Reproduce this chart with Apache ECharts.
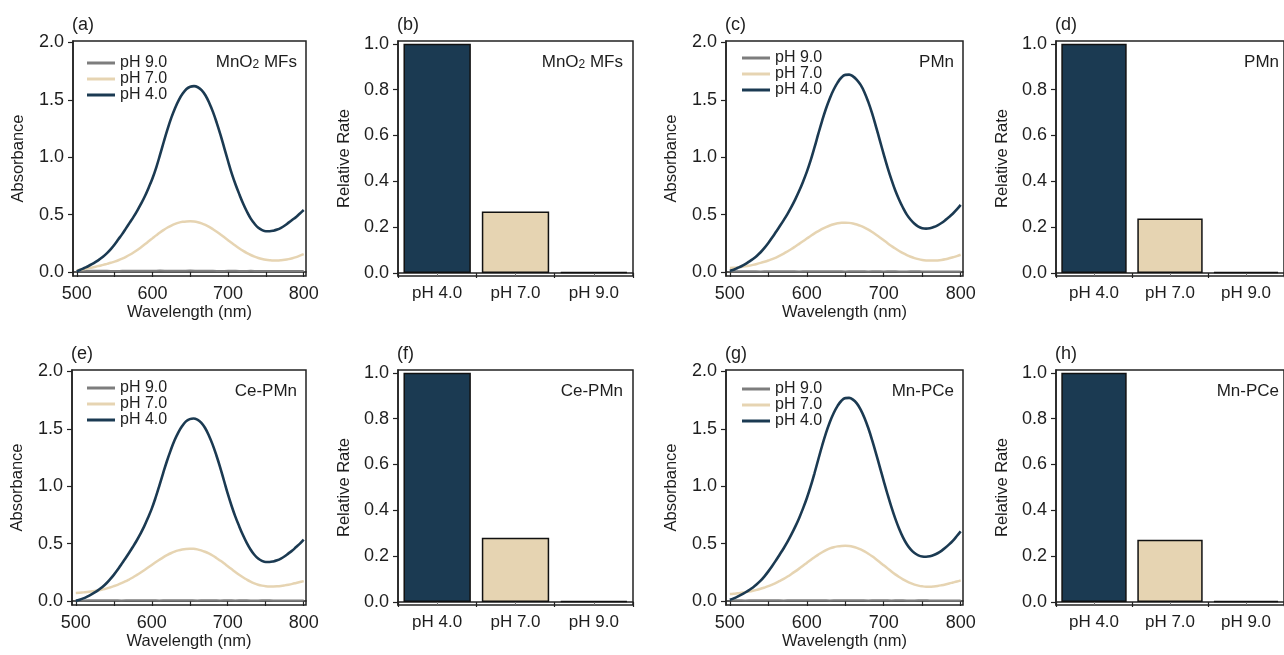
<!DOCTYPE html>
<html><head><meta charset="utf-8">
<script src="https://cdn.jsdelivr.net/npm/echarts@6/dist/echarts.min.js"></script>
<style>html,body{margin:0;padding:0;background:#fff}#c{width:1284px;height:655px}</style>
</head><body><div id="c"></div>
<script>
// ---------- data ----------
const wavelengths = [500,505,510,515,520,525,530,535,540,545,550,555,560,565,570,575,580,585,590,595,600,605,610,615,620,625,630,635,640,645,650,655,660,665,670,675,680,685,690,695,700,705,710,715,720,725,730,735,740,745,750,755,760,765,770,775,780,785,790,795,800];
const grayWavelengths = [500,510,520,530,540,550,560,570,580,590,600,610,620,630,640,650,660,670,680,690,700,710,720,730,740,750,760,770,780,790,800];
const seriesNames = ['pH 9.0','pH 7.0','pH 4.0'];
const barCategories = ['pH 4.0','pH 7.0','pH 9.0'];
const wlTicks = [500,550,600,650,700,750,800];
const wlLabels = [500,600,700,800];
const absTicks = [0,0.5,1.0,1.5,2.0];
const rateTicks = [0,0.2,0.4,0.6,0.8,1.0];

// (a) MnO2 MFs
const mno2_pH4 = [0.005,0.02,0.035,0.05,0.068,0.088,0.11,0.135,0.165,0.20,
  0.24,0.285,0.33,0.38,0.43,0.48,0.535,0.595,0.66,0.735,
  0.815,0.91,1.02,1.135,1.245,1.345,1.43,1.50,1.555,1.595,
  1.615,1.62,1.61,1.585,1.54,1.475,1.395,1.30,1.195,1.08,
  0.965,0.855,0.76,0.675,0.595,0.525,0.465,0.42,0.385,0.365,
  0.355,0.355,0.36,0.37,0.385,0.405,0.43,0.455,0.48,0.51,
  0.54];
const mno2_pH7 = [0.015,0.02,0.026,0.032,0.039,0.046,0.054,0.062,0.071,0.08,
  0.09,0.102,0.116,0.132,0.15,0.17,0.192,0.216,0.241,0.267,
  0.293,0.319,0.344,0.367,0.388,0.405,0.419,0.43,0.437,0.441,
  0.442,0.44,0.434,0.424,0.41,0.393,0.373,0.351,0.327,0.302,
  0.277,0.252,0.228,0.205,0.184,0.165,0.148,0.134,0.122,0.113,
  0.106,0.102,0.10,0.10,0.102,0.106,0.112,0.12,0.13,0.142,
  0.155];
const mno2_pH9 = [0.010,0.010,0.011,0.010,0.010,0.009,0.010,0.011,0.011,0.010,0.010,0.012,0.011,0.010,0.011,0.012,0.011,0.010,0.010,0.009,0.010,0.010,0.009,0.010,0.008,0.009,0.008,0.009,0.008,0.008,0.009];

// (c) PMn
const pmn_pH4 = [0.01,0.02,0.035,0.05,0.068,0.09,0.113,0.14,0.172,0.21,
  0.253,0.30,0.35,0.40,0.452,0.507,0.567,0.633,0.705,0.785,
  0.872,0.972,1.085,1.205,1.32,1.425,1.515,1.59,1.65,1.695,
  1.718,1.72,1.705,1.675,1.63,1.565,1.48,1.38,1.265,1.145,
  1.025,0.91,0.805,0.71,0.63,0.56,0.50,0.455,0.42,0.395,
  0.382,0.378,0.382,0.392,0.407,0.427,0.452,0.48,0.51,0.545,
  0.585];
const pmn_pH7 = [0.035,0.037,0.04,0.044,0.049,0.055,0.062,0.07,0.079,0.089,
  0.10,0.112,0.126,0.142,0.16,0.18,0.20,0.222,0.245,0.268,
  0.291,0.314,0.336,0.356,0.375,0.391,0.405,0.416,0.424,0.429,
  0.43,0.428,0.423,0.414,0.402,0.387,0.369,0.348,0.325,0.301,
  0.276,0.251,0.227,0.204,0.183,0.164,0.147,0.133,0.121,0.112,
  0.105,0.101,0.099,0.099,0.101,0.105,0.111,0.119,0.128,0.138,
  0.15];
const pmn_pH9 = [0.006,0.006,0.007,0.006,0.005,0.006,0.006,0.007,0.006,0.005,0.006,0.006,0.007,0.006,0.006,0.005,0.006,0.006,0.005,0.006,0.005,0.006,0.005,0.005,0.006,0.005,0.004,0.005,0.005,0.004,0.005];

// (e) Ce-PMn
const cepmn_pH4 = [0.00,0.01,0.023,0.038,0.055,0.075,0.097,0.122,0.152,0.188,
  0.228,0.272,0.32,0.368,0.418,0.47,0.525,0.585,0.65,0.725,
  0.805,0.90,1.005,1.115,1.22,1.315,1.40,1.47,1.525,1.565,
  1.585,1.59,1.58,1.555,1.51,1.445,1.365,1.27,1.165,1.05,
  0.935,0.83,0.735,0.652,0.575,0.507,0.449,0.403,0.37,0.35,
  0.34,0.34,0.345,0.355,0.37,0.39,0.415,0.44,0.47,0.50,
  0.535];
const cepmn_pH7 = [0.07,0.072,0.075,0.078,0.082,0.087,0.093,0.10,0.108,0.118,
  0.129,0.141,0.155,0.17,0.187,0.205,0.225,0.246,0.268,0.291,
  0.314,0.337,0.359,0.38,0.399,0.416,0.43,0.441,0.449,0.454,
  0.456,0.455,0.45,0.441,0.429,0.414,0.396,0.375,0.352,0.328,
  0.303,0.278,0.253,0.229,0.207,0.187,0.169,0.154,0.142,0.134,
  0.129,0.127,0.127,0.128,0.131,0.136,0.142,0.149,0.157,0.165,
  0.173];
const cepmn_pH9 = [0.006,0.005,0.006,0.007,0.006,0.006,0.005,0.006,0.007,0.006,0.006,0.005,0.006,0.006,0.007,0.006,0.005,0.006,0.006,0.005,0.006,0.005,0.006,0.005,0.005,0.006,0.005,0.005,0.004,0.005,0.005];

// (g) Mn-PCe
const mnpce_pH4 = [0.01,0.023,0.038,0.055,0.074,0.095,0.118,0.145,0.177,0.215,
  0.258,0.305,0.355,0.407,0.46,0.517,0.58,0.648,0.722,0.805,
  0.895,0.998,1.113,1.235,1.355,1.465,1.56,1.638,1.70,1.745,
  1.768,1.77,1.755,1.722,1.668,1.595,1.505,1.40,1.285,1.165,
  1.045,0.928,0.818,0.718,0.63,0.555,0.495,0.45,0.418,0.398,
  0.388,0.386,0.39,0.40,0.416,0.437,0.463,0.493,0.527,0.566,
  0.607];
const mnpce_pH7 = [0.06,0.063,0.067,0.071,0.076,0.082,0.089,0.097,0.106,0.117,
  0.129,0.143,0.158,0.175,0.193,0.213,0.235,0.258,0.282,0.307,
  0.332,0.357,0.381,0.404,0.425,0.443,0.458,0.469,0.476,0.48,
  0.481,0.479,0.473,0.463,0.449,0.432,0.412,0.389,0.364,0.338,
  0.311,0.284,0.257,0.232,0.209,0.188,0.17,0.155,0.143,0.134,
  0.128,0.125,0.125,0.127,0.131,0.137,0.144,0.152,0.161,0.17,
  0.18];
const mnpce_pH9 = [0.006,0.006,0.005,0.006,0.006,0.007,0.006,0.005,0.006,0.006,0.007,0.006,0.006,0.005,0.006,0.006,0.007,0.006,0.005,0.006,0.006,0.005,0.006,0.005,0.005,0.006,0.005,0.004,0.005,0.005,0.005];

// relative rates, order: pH 4.0, pH 7.0, pH 9.0
const rate_mno2 = [1.0, 0.268, 0.005];
const rate_pmn = [1.0, 0.238, 0.005];
const rate_cepmn = [1.0, 0.280, 0.005];
const rate_mnpce = [1.0, 0.272, 0.005];

// ---------- styles ----------
const FONT = '"Liberation Sans", Arial, sans-serif';
const TXT = '#1e1e1e';
const AX = '#222';
const NAVY = '#1b3a52';
const BEIGE = '#e6d4b2';
const GRAY = '#7d7d7d';
const lineColors = {'pH 9.0': GRAY, 'pH 7.0': BEIGE, 'pH 4.0': NAVY};
const barColors = [NAVY, BEIGE, GRAY];
const TICK_FS = 18, NAME_FS = 16.5, LEG_FS = 16, SAMPLE_FS = 17, PANEL_FS = 18, CAT_FS = 17;

const opt = {
  animation: false,
  backgroundColor: '#fff',
  grid: [], xAxis: [], yAxis: [], series: [], legend: [], graphic: []
};

function addText(text, x, y, align, fs, rich) {
  opt.graphic.push({
    type: 'text', x: x, y: y,
    style: {text: text, fill: TXT, font: fs + 'px ' + FONT, align: align, verticalAlign: 'middle', rich: rich}
  });
}

const subRich = {sub: {fontSize: 12, fontFamily: FONT, fill: TXT, verticalAlign: 'bottom', padding: [6, 0, 0, 0]}};

function linePanel(box, label, sample, d9, d7, d4, legendPos) {
  const gi = opt.grid.length;
  opt.grid.push({left: box[0], top: box[1], width: box[2], height: box[3], show: true, borderColor: AX, borderWidth: 1.5, containLabel: false});
  const xi = opt.xAxis.length;
  opt.xAxis.push({
    type: 'value', gridIndex: gi, min: 495, max: 803,
    name: 'Wavelength (nm)', nameLocation: 'middle', nameGap: 28,
    nameTextStyle: {fontSize: NAME_FS, fontFamily: FONT, color: TXT},
    axisLine: {show: true, lineStyle: {color: AX, width: 1.5}},
    axisTick: {show: true, length: 5, customValues: wlTicks, lineStyle: {color: AX, width: 1.2}},
    axisLabel: {customValues: wlLabels, fontSize: TICK_FS, fontFamily: FONT, color: TXT, margin: 9},
    splitLine: {show: false}
  });
  const yi = opt.yAxis.length;
  opt.yAxis.push({
    type: 'value', gridIndex: gi, min: -0.035, max: 2.013,
    name: 'Absorbance', nameLocation: 'middle', nameGap: 46,
    nameTextStyle: {fontSize: NAME_FS, fontFamily: FONT, color: TXT},
    axisLine: {show: true, lineStyle: {color: AX, width: 1.5}},
    axisTick: {show: true, length: 5, customValues: absTicks, lineStyle: {color: AX, width: 1.2}},
    axisLabel: {customValues: absTicks, fontSize: TICK_FS, fontFamily: FONT, color: TXT, margin: 9, formatter: v => v.toFixed(1)},
    splitLine: {show: false}
  });
  const ds = {'pH 9.0': d9, 'pH 7.0': d7, 'pH 4.0': d4};
  const xs = {'pH 9.0': grayWavelengths, 'pH 7.0': wavelengths, 'pH 4.0': wavelengths};
  const widths = {'pH 9.0': 2, 'pH 7.0': 2.5, 'pH 4.0': 2.6};
  seriesNames.forEach(n => {
    opt.series.push({
      type: 'line', name: n, xAxisIndex: xi, yAxisIndex: yi,
      data: xs[n].map((w, i) => [w, ds[n][i]]),
      smooth: 0.4, showSymbol: false, symbol: 'none',
      lineStyle: {color: lineColors[n], width: widths[n]},
      itemStyle: {color: lineColors[n]}
    });
  });
  opt.legend.push({
    data: seriesNames, orient: 'vertical', left: legendPos[0], top: legendPos[1],
    icon: 'rect', itemWidth: 28, itemHeight: 3, itemGap: 0, padding: 0, selectedMode: false,
    textStyle: {fontSize: LEG_FS, fontFamily: FONT, color: TXT, lineHeight: 16}
  });
  addText(label, box[0] - 1, box[1] - 16, 'left', PANEL_FS);
  addText(sample, box[0] + box[2] - 9, box[1] + 21, 'right', SAMPLE_FS, subRich);
}

function barPanel(box, label, sample, rates) {
  const gi = opt.grid.length;
  opt.grid.push({left: box[0], top: box[1], width: box[2], height: box[3], show: true, borderColor: AX, borderWidth: 1.5, containLabel: false});
  const xi = opt.xAxis.length;
  opt.xAxis.push({
    type: 'category', gridIndex: gi, data: barCategories, boundaryGap: true,
    axisLine: {show: true, lineStyle: {color: AX, width: 1.5}},
    axisTick: {show: true, length: 5, lineStyle: {color: AX, width: 1.2}},
    axisLabel: {fontSize: CAT_FS, fontFamily: FONT, color: TXT, margin: 9},
    splitLine: {show: false}
  });
  // small inner ticks at category centres
  opt.xAxis.push({
    type: 'category', gridIndex: gi, data: barCategories, boundaryGap: true, position: 'bottom',
    axisLine: {show: false},
    axisTick: {show: true, inside: true, alignWithLabel: true, length: 4, lineStyle: {color: '#777', width: 1}},
    axisLabel: {show: false}, splitLine: {show: false}
  });
  const yi = opt.yAxis.length;
  opt.yAxis.push({
    type: 'value', gridIndex: gi, min: -0.013, max: 1.012,
    name: 'Relative Rate', nameLocation: 'middle', nameGap: 45,
    nameTextStyle: {fontSize: NAME_FS, fontFamily: FONT, color: TXT},
    axisLine: {show: true, lineStyle: {color: AX, width: 1.5}},
    axisTick: {show: true, length: 5, customValues: rateTicks, lineStyle: {color: AX, width: 1.2}},
    axisLabel: {customValues: rateTicks, fontSize: TICK_FS, fontFamily: FONT, color: TXT, margin: 9, formatter: v => v.toFixed(1)},
    splitLine: {show: false}
  });
  opt.series.push({
    type: 'bar', name: sample + ' rate', xAxisIndex: xi, yAxisIndex: yi, barWidth: '86%',
    data: rates.map((v, i) => ({value: v, itemStyle: {color: barColors[i]}})),
    itemStyle: {borderColor: '#111', borderWidth: 1.5}
  });
  addText(label, box[0] - 1, box[1] - 16, 'left', PANEL_FS);
  addText(sample, box[0] + box[2] - 10, box[1] + 21, 'right', SAMPLE_FS, subRich);
}

linePanel([73, 41, 233, 235], '(a)', 'MnO{sub|2} MFs', mno2_pH9, mno2_pH7, mno2_pH4, [87, 55]);
barPanel([398, 41, 235, 235], '(b)', 'MnO{sub|2} MFs', rate_mno2);
linePanel([726, 41, 237, 235], '(c)', 'PMn', pmn_pH9, pmn_pH7, pmn_pH4, [742, 50]);
barPanel([1056, 41, 233, 235], '(d)', 'PMn', rate_pmn);
linePanel([72, 370, 234, 235], '(e)', 'Ce-PMn', cepmn_pH9, cepmn_pH7, cepmn_pH4, [87, 380]);
barPanel([398, 370, 235, 235], '(f)', 'Ce-PMn', rate_cepmn);
linePanel([726, 370, 237, 235], '(g)', 'Mn-PCe', mnpce_pH9, mnpce_pH7, mnpce_pH4, [742, 381]);
barPanel([1056, 370, 233, 235], '(h)', 'Mn-PCe', rate_mnpce);

const chart = echarts.init(document.getElementById('c'), null, {renderer: 'canvas'});
chart.setOption(opt);
</script>
</body></html>
